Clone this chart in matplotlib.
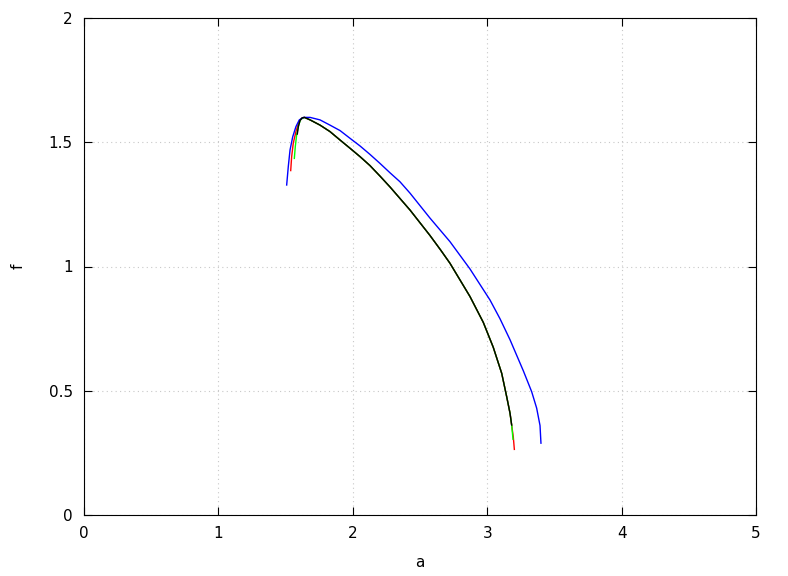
import matplotlib
matplotlib.use("Agg")
import matplotlib.pyplot as plt
from matplotlib.ticker import FormatStrFormatter, MultipleLocator

# f(a) curves
a_red = [1.538, 1.545, 1.557, 1.577, 1.600, 1.620, 1.640, 1.682, 1.756, 1.830, 1.905,
         1.979, 2.054, 2.128, 2.202, 2.277, 2.426, 2.574, 2.654, 2.723, 2.872, 2.971,
         3.045, 3.108, 3.145, 3.170, 3.182, 3.194, 3.202]
f_red = [1.386, 1.442, 1.496, 1.543, 1.583, 1.596, 1.600, 1.590, 1.569, 1.543, 1.509,
         1.476, 1.442, 1.406, 1.364, 1.320, 1.227, 1.125, 1.066, 1.013, 0.879, 0.775,
         0.675, 0.570, 0.476, 0.409, 0.362, 0.315, 0.264]

a_green = [1.565, 1.572, 1.582, 1.597, 1.612, 1.640, 1.682, 1.756, 1.830, 1.905,
           1.979, 2.054, 2.128, 2.202, 2.277, 2.426, 2.574, 2.654, 2.723, 2.872, 2.971,
           3.045, 3.108, 3.145, 3.170, 3.182, 3.192]
f_green = [1.435, 1.482, 1.529, 1.569, 1.592, 1.600, 1.590, 1.569, 1.543, 1.509,
           1.476, 1.442, 1.406, 1.364, 1.320, 1.227, 1.125, 1.066, 1.013, 0.879, 0.775,
           0.675, 0.570, 0.476, 0.409, 0.362, 0.305]

a_blue = [1.508, 1.520, 1.533, 1.553, 1.577, 1.602, 1.632, 1.682, 1.756, 1.830, 1.905,
          1.979, 2.054, 2.128, 2.202, 2.277, 2.351, 2.426, 2.574, 2.723, 2.872, 3.021,
          3.095, 3.170, 3.269, 3.331, 3.368, 3.393, 3.400]
f_blue = [1.328, 1.402, 1.469, 1.522, 1.563, 1.590, 1.600, 1.600, 1.590, 1.569, 1.547,
          1.516, 1.485, 1.451, 1.415, 1.377, 1.341, 1.295, 1.195, 1.100, 0.990, 0.865,
          0.790, 0.705, 0.580, 0.496, 0.430, 0.360, 0.289]

a_black = [1.587, 1.595, 1.607, 1.622, 1.640, 1.682, 1.756, 1.830, 1.905, 1.979,
           2.054, 2.128, 2.202, 2.277, 2.426, 2.574, 2.654, 2.723, 2.872, 2.971,
           3.045, 3.108, 3.145, 3.170, 3.182]
f_black = [1.533, 1.563, 1.587, 1.598, 1.600, 1.590, 1.569, 1.543, 1.509, 1.476,
           1.442, 1.406, 1.364, 1.320, 1.227, 1.125, 1.066, 1.013, 0.879, 0.775,
           0.675, 0.570, 0.476, 0.409, 0.362]

fig = plt.figure(figsize=(7.88, 5.76), dpi=100)
ax = fig.add_axes([84/788, 61/576, 672/788, 497/576])

ax.plot(a_red, f_red, color='red', lw=1)
ax.plot(a_green, f_green, color='#00ff00', lw=1)
ax.plot(a_blue, f_blue, color='blue', lw=1)
ax.plot(a_black, f_black, color='black', lw=1)

ax.set_xlim(0, 5)
ax.set_ylim(0, 2)
ax.xaxis.set_major_locator(MultipleLocator(1))
ax.yaxis.set_major_locator(MultipleLocator(0.5))
ax.yaxis.set_major_formatter(FormatStrFormatter('%g'))
ax.tick_params(direction='in', top=True, right=True, length=6, labelsize=11, pad=8)
ax.grid(True, color='#c8c8c8', linestyle=(0, (1, 3)), lw=0.8)
ax.set_xlabel('a', fontsize=11, labelpad=10)
ax.set_ylabel('f', fontsize=11, labelpad=17)

fig.savefig('out.png', dpi=100)
